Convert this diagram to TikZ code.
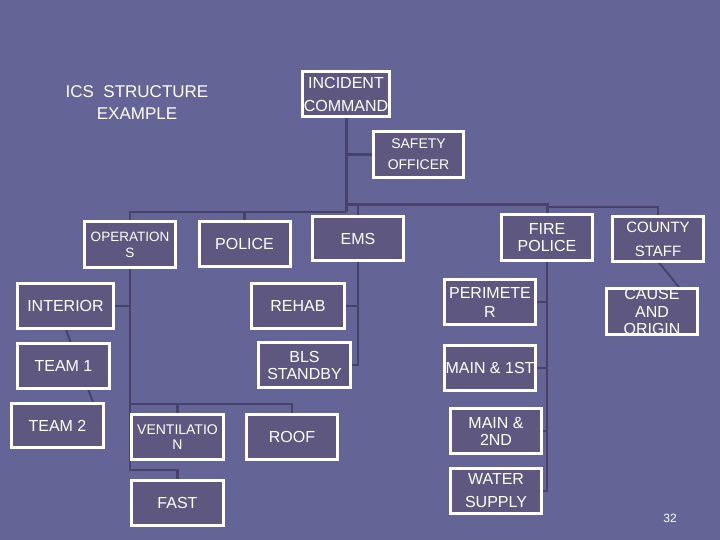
\documentclass[tikz,border=0pt]{standalone}
\usepackage{fontspec}
\setmainfont{Liberation Sans}
\usetikzlibrary{positioning}
\pgfdeclarelayer{bg}
\pgfsetlayers{bg,main}
\definecolor{slide}{RGB}{100,100,150}
\definecolor{boxfill}{RGB}{94,88,128}
\definecolor{wire}{RGB}{70,66,108}

\begin{document}
\begin{tikzpicture}[x=1pt,y=-1pt,
 every node/.style={text=white,align=center,font=\fontsize{16}{19}\selectfont},
 unit/.style={draw=white,line width=3pt,fill=boxfill,inner sep=0pt,outer sep=0pt,minimum width=91pt,minimum height=45pt},
 link/.style={draw=wire,line width=2.5pt}]
\useasboundingbox (0,0) rectangle (720,540);
\node[font=\fontsize{17}{22}\selectfont] (title) at (137,103) {ICS\ \ STRUCTURE\\EXAMPLE};
\node[unit,minimum width=87pt,font=\fontsize{16}{23}\selectfont] (ic) at (346,94) {INCIDENT\\COMMAND};
\node[unit,minimum width=90pt,minimum height=46pt,font=\fontsize{14}{21}\selectfont] (so) at (418.5,154.5) {SAFETY\\OFFICER};
\node[unit,font=\fontsize{13.5}{16}\selectfont] (ops) at (130,244.5) {OPERATION\\S};
\node[unit] (police) at (244.5,244) {POLICE};
\node[unit,minimum height=44pt] (ems) at (358,238.5) {EMS};
\node[unit,minimum height=46pt,font=\fontsize{16}{17}\selectfont] (firepol) at (547,237.5) {FIRE\\POLICE};
\node[unit,font=\fontsize{15}{24}\selectfont] (county) at (658,239) {COUNTY\\STAFF};
\node[unit,minimum width=96pt] (interior) at (65.5,306) {INTERIOR};
\node[unit,minimum width=93pt] (rehab) at (298,306) {REHAB};
\node[unit] (perim) at (490,302) {PERIMETE\\R};
\node[unit,minimum height=44pt,font=\fontsize{16}{17.5}\selectfont] (cause) at (652,311.5) {CAUSE\\AND\\ORIGIN};
\node[unit,minimum width=92pt] (team1) at (63.5,366) {TEAM 1};
\node[unit,minimum width=92pt,minimum height=44pt] (team2) at (57.5,425.5) {TEAM 2};
\node[unit,minimum width=92pt,font=\fontsize{16}{17}\selectfont] (bls) at (304.5,365) {BLS\\STANDBY};
\node[unit] (main1) at (490,368) {MAIN \& 1ST};
\node[unit,minimum width=92pt,font=\fontsize{14}{15}\selectfont] (vent) at (177.5,437) {VENTILATIO\\N};
\node[unit] (roof) at (292,437) {ROOF};
\node[unit,font=\fontsize{16}{17}\selectfont] (main2) at (496,431) {MAIN \&\\2ND};
\node[unit,font=\fontsize{16}{23}\selectfont] (water) at (496,491) {WATER\\SUPPLY};
\node[unit,minimum width=92pt] (fast) at (177.5,503) {FAST};
\node[font=\fontsize{12}{14}\selectfont] (pagenum) at (670,518) {32};
\draw[white,line width=3pt] (cause.north west) rectangle (cause.south east);
\begin{pgfonlayer}{bg}
\fill[slide] (0,0) rectangle (720,540);
\coordinate (lbus) at (346,212);
\coordinate (rbus) at (346,205);
\coordinate (fbus) at (547,207);
\coordinate (vbus) at (130,404);
\coordinate (opsend) at (130,470);
\draw[link,line width=3pt] (ic.south) -- (lbus);
\draw[link] (so.west) -- (so.west -| ic.south);
\draw[link] (ops.north) |- (lbus);
\draw[link] (police.north) -- (police.north |- lbus);
\draw[link,line width=3pt] (rbus) -| (firepol.north);
\draw[link] (ems.north) -- (ems.north |- rbus);
\draw[link,line width=2pt] (county.north) |- (fbus);
\draw[link] (ops.south) -- (opsend) -| (fast.north);
\draw[link] (interior.east) -- (interior.east -| ops.south);
\draw[link] (vbus) -| (roof.north);
\draw[link] (vent.north) -- (vent.north |- vbus);
\draw[link,line width=2pt] (interior.south) -- ([xshift=-10pt]team2.north east);
\draw[link] (ems.south) |- (bls.east);
\draw[link] (rehab.east) -- (rehab.east -| ems.south);
\draw[link] (firepol.south) |- (water.east);
\draw[link] (perim.east) -- (perim.east -| firepol.south);
\draw[link] (main1.east) -- (main1.east -| firepol.south);
\draw[link] (main2.east) -- (main2.east -| firepol.south);
\draw[link,line width=2pt] (county.south) -- ([xshift=28pt]cause.north);
\end{pgfonlayer}
\end{tikzpicture}
\end{document}
